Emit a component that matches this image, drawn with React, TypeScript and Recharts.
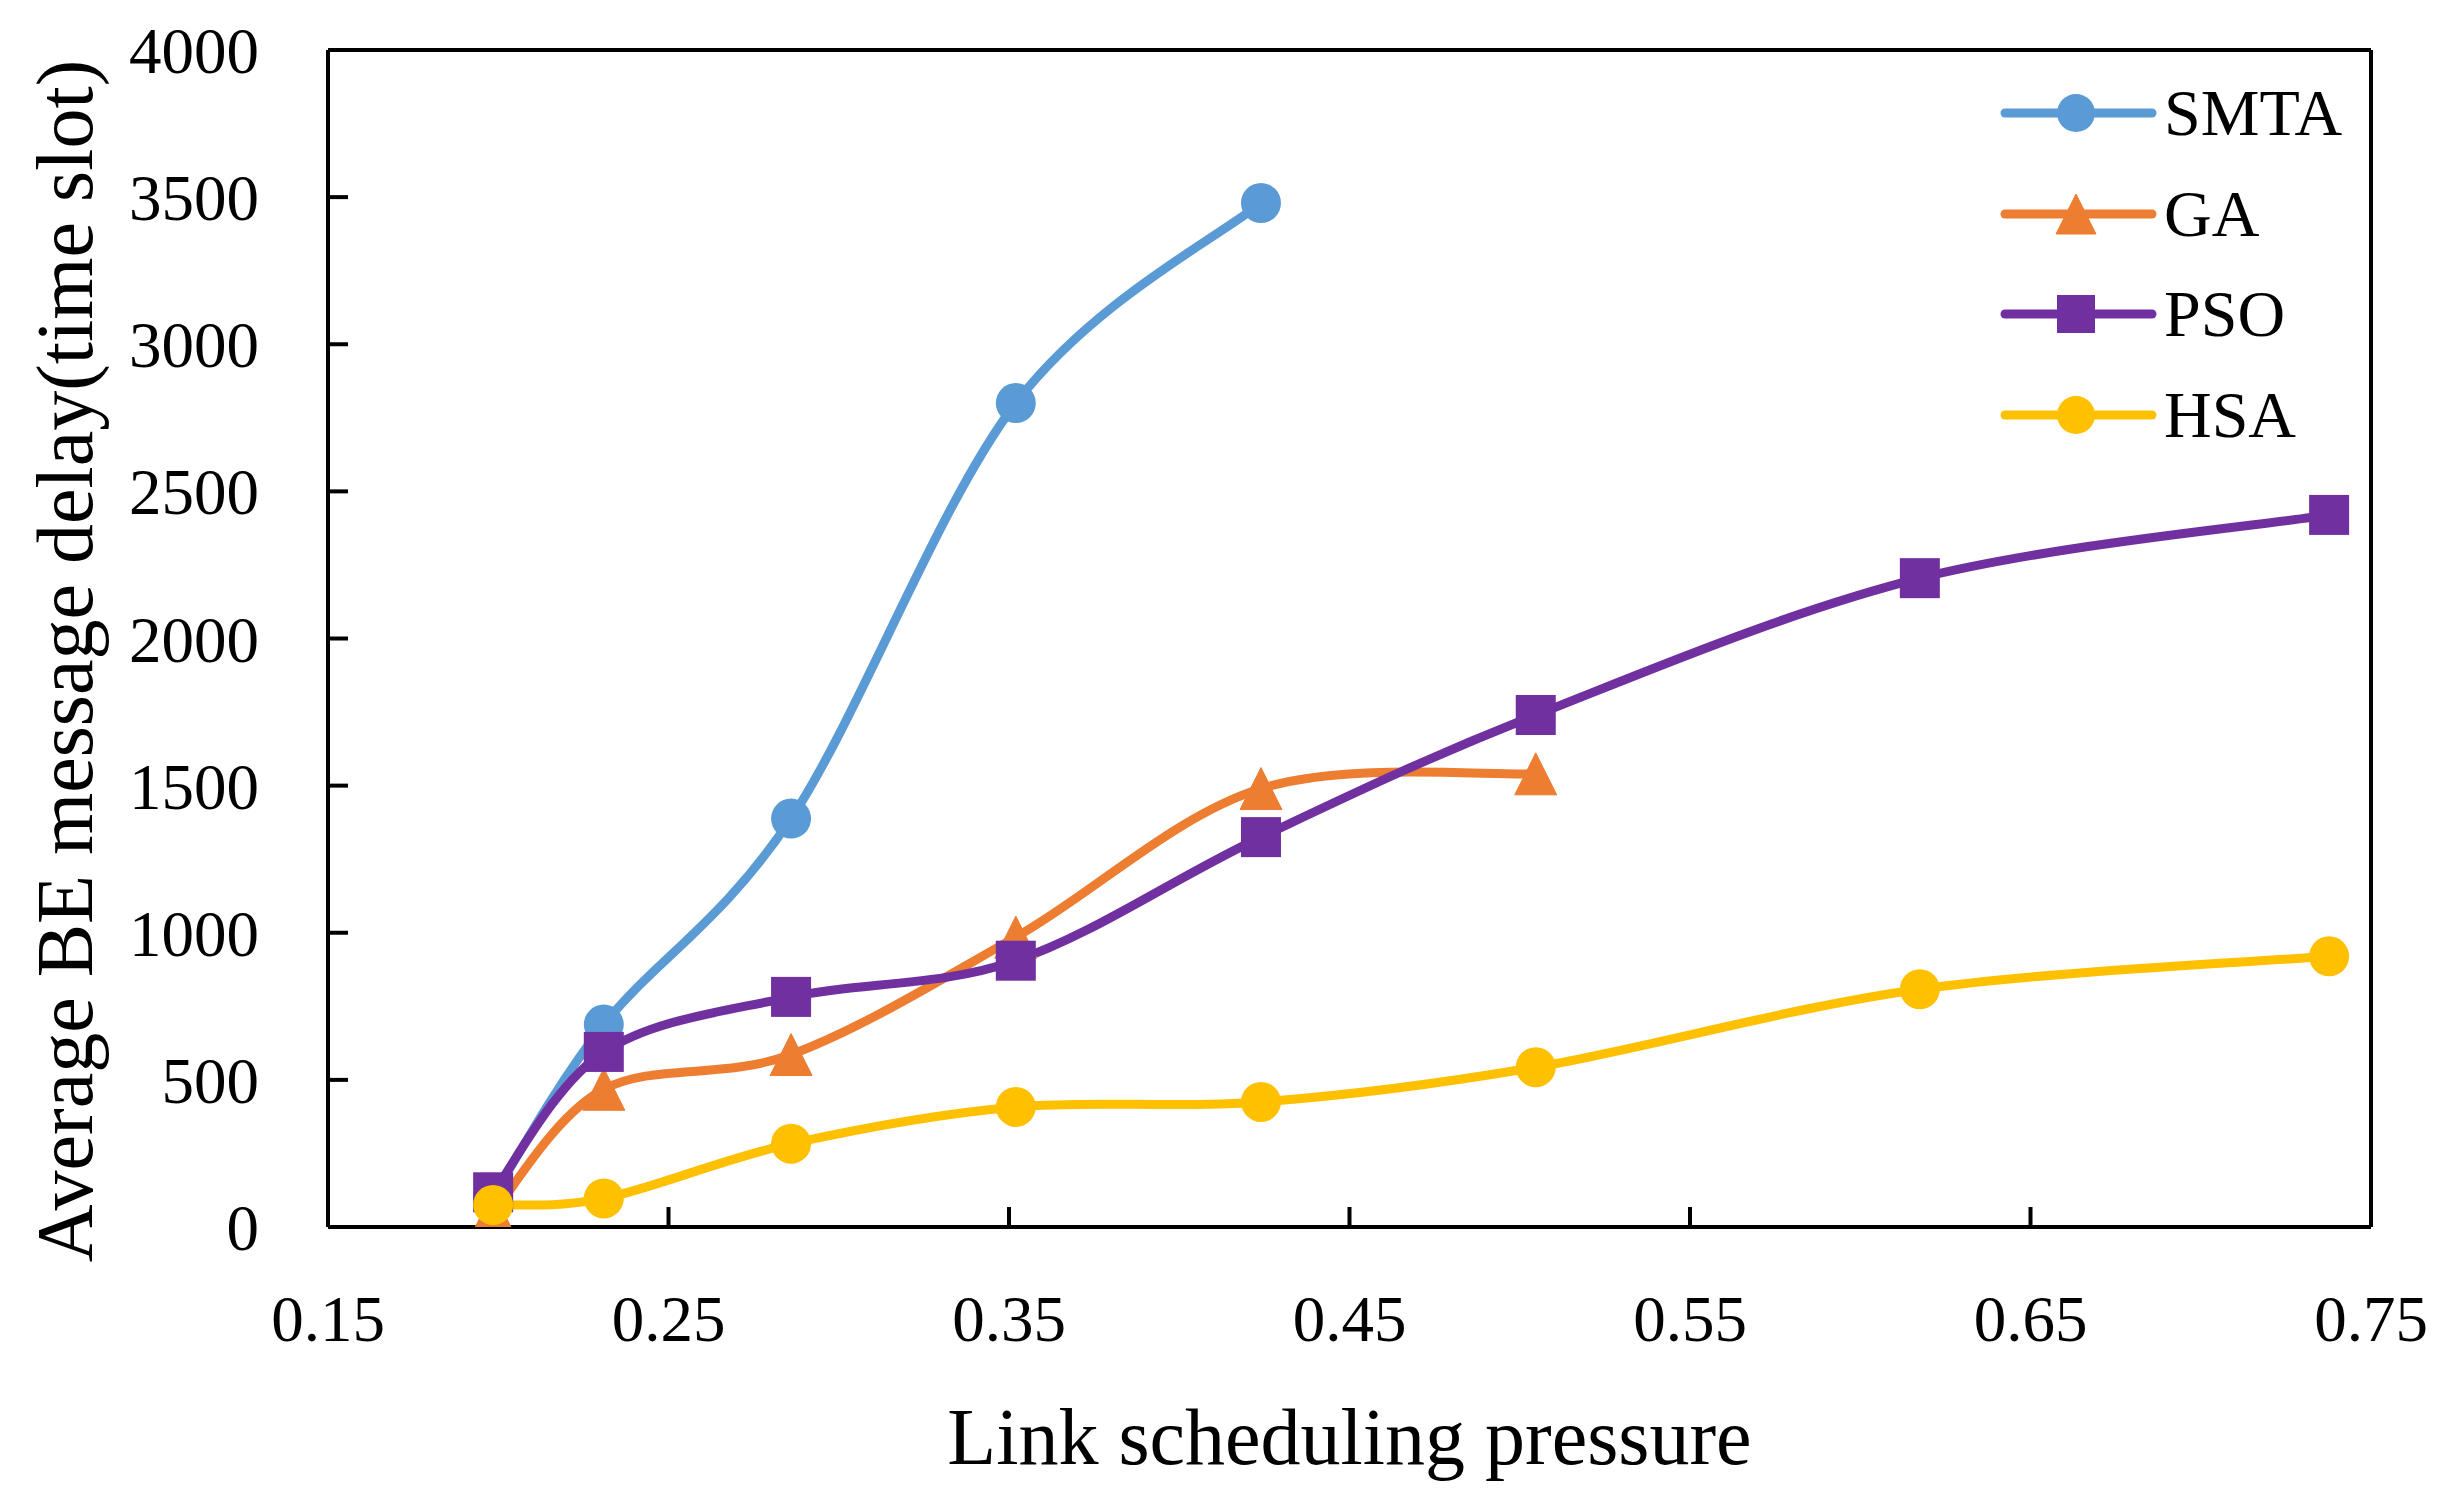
import React from 'react';
import { LineChart, Line, XAxis, YAxis, ReferenceLine, Legend } from 'recharts';

// ---- data ----
const xValues = [0.1985, 0.231, 0.286, 0.352, 0.424, 0.5047, 0.6175, 0.7377];
const smtaValues = [105, 688, 1388, 2800, 3480];
const gaValues = [50, 468, 586, 985, 1490, 1540];
const psoValues = [118, 595, 782, 905, 1325, 1740, 2205, 2420];
const hsaValues = [75, 97, 283, 408, 425, 543, 808, 920];

const xTicks = [0.15, 0.25, 0.35, 0.45, 0.55, 0.65, 0.75];
const yTicks = [0, 500, 1000, 1500, 2000, 2500, 3000, 3500, 4000];

const seriesNames = ['SMTA', 'GA', 'PSO', 'HSA'];
const seriesColors = ['#5B9BD5', '#ED7D31', '#7030A0', '#FFC000'];
const seriesShapes = ['circle', 'triangle', 'square', 'circle'];
const seriesValues = [smtaValues, gaValues, psoValues, hsaValues];

const xTitle = 'Link scheduling pressure';
const yTitle = 'Average BE message delay(time slot)';

const FONT = '"Liberation Serif", "Times New Roman", serif';

const seriesData = seriesValues.map((vals) =>
  vals.map((v, i) => ({ x: xValues[i], y: v }))
);

// Excel-like smoothed line (Catmull-Rom style Bezier)
function excelSmooth(context: any) {
  let pts: [number, number][] = [];
  return {
    areaStart() {},
    areaEnd() {},
    lineStart() {
      pts = [];
    },
    point(x: number, y: number) {
      pts.push([+x, +y]);
    },
    lineEnd() {
      const n = pts.length;
      if (!n) return;
      context.moveTo(pts[0][0], pts[0][1]);
      for (let i = 0; i < n - 1; i++) {
        const p0 = pts[i > 0 ? i - 1 : i];
        const p1 = pts[i];
        const p2 = pts[i + 1];
        const p3 = pts[i + 2 < n ? i + 2 : i + 1];
        context.bezierCurveTo(
          p1[0] + (p2[0] - p0[0]) / 6,
          p1[1] + (p2[1] - p0[1]) / 6,
          p2[0] - (p3[0] - p1[0]) / 6,
          p2[1] - (p3[1] - p1[1]) / 6,
          p2[0],
          p2[1]
        );
      }
    },
  };
}

function Marker({ shape, cx, cy, color, size = 20 }: any) {
  if (cx == null || cy == null) return null;
  if (shape === 'circle') return <circle cx={cx} cy={cy} r={size} fill={color} />;
  if (shape === 'square')
    return <rect x={cx - size} y={cy - size} width={size * 2} height={size * 2} fill={color} />;
  return (
    <path
      d={`M${cx},${cy - size - 1} L${cx + size + 1},${cy + size + 1} L${cx - size - 1},${cy + size + 1} Z`}
      fill={color}
      strokeLinejoin="round"
      stroke={color}
      strokeWidth={1}
    />
  );
}

function LegendContent() {
  return (
    <div style={{ display: 'flex', flexDirection: 'column' }}>
      {seriesNames.map((name, i) => (
        <div key={name} style={{ display: 'flex', alignItems: 'center', height: 100.5 }}>
          <svg width={169} height={100} style={{ display: 'block' }}>
            <line
              x1={10}
              y1={50}
              x2={157}
              y2={50}
              stroke={seriesColors[i]}
              strokeWidth={9}
              strokeLinecap="round"
            />
            <Marker shape={seriesShapes[i]} cx={81} cy={50} color={seriesColors[i]} size={19} />
          </svg>
          <span style={{ fontFamily: FONT, fontSize: 66, color: '#000', lineHeight: '100px' }}>
            {name}
          </span>
        </div>
      ))}
    </div>
  );
}

const renderYTitle = (props: any) => {
  const vb = props.viewBox || { x: 0, y: 50, width: 328, height: 1177 };
  const x = vb.x + 92;
  const y = 661;
  return (
    <text
      x={x}
      y={y}
      transform={`rotate(-90, ${x}, ${y})`}
      textAnchor="middle"
      fontFamily={FONT}
      fontSize={80}
      fill="#000"
    >
      {yTitle}
    </text>
  );
};

const renderXTitle = (props: any) => {
  const vb = props.viewBox || { x: 328, y: 1227, width: 2043, height: 279 };
  return (
    <text
      x={vb.x + vb.width / 2}
      y={vb.y + 237}
      textAnchor="middle"
      fontFamily={FONT}
      fontSize={80}
      fill="#000"
    >
      {xTitle}
    </text>
  );
};

export default function App() {
  return (
    <div
      style={{
        position: 'absolute',
        left: 0,
        top: 0,
        width: 2448,
        height: 1506,
        background: '#fff',
      }}
    >
      <LineChart
        width={2448}
        height={1506}
        margin={{ top: 50, right: 77, bottom: 0, left: 0 }}
      >
        <XAxis
          dataKey="x"
          type="number"
          domain={[0.15, 0.75]}
          ticks={xTicks}
          interval={0}
          height={279}
          tickFormatter={(v: number) => v.toFixed(2)}
          tickSize={-20}
          tickMargin={88}
          axisLine={{ stroke: '#000', strokeWidth: 4 }}
          tickLine={{ stroke: '#000', strokeWidth: 4 }}
          tick={{ fill: '#000', fontSize: 65, fontFamily: FONT }}
          label={renderXTitle}
          allowDataOverflow
        />
        <YAxis
          type="number"
          domain={[0, 4000]}
          ticks={yTicks}
          interval={0}
          width={328}
          tickSize={-20}
          tickMargin={89}
          axisLine={{ stroke: '#000', strokeWidth: 4 }}
          tickLine={{ stroke: '#000', strokeWidth: 4 }}
          tick={{ fill: '#000', fontSize: 65, fontFamily: FONT }}
          label={renderYTitle}
          allowDataOverflow
        />
        <ReferenceLine y={4000} stroke="#000" strokeWidth={4} />
        <ReferenceLine x={0.75} stroke="#000" strokeWidth={4} />
        {seriesNames.map((name, i) => (
          <Line
            key={name}
            name={name}
            data={seriesData[i]}
            dataKey="y"
            type={excelSmooth as any}
            stroke={seriesColors[i]}
            strokeWidth={9}
            strokeLinejoin="round"
            strokeLinecap="round"
            isAnimationActive={false}
            activeDot={false}
            dot={(p: any) => (
              <Marker
                key={`${name}-dot-${p.index}`}
                shape={seriesShapes[i]}
                cx={p.cx}
                cy={p.cy}
                color={seriesColors[i]}
              />
            )}
          />
        ))}
        <Legend
          layout="vertical"
          align="center"
          verticalAlign="middle"
          wrapperStyle={{ left: 1995, top: 63, width: 420 }}
          content={() => <LegendContent />}
        />
      </LineChart>
    </div>
  );
}
